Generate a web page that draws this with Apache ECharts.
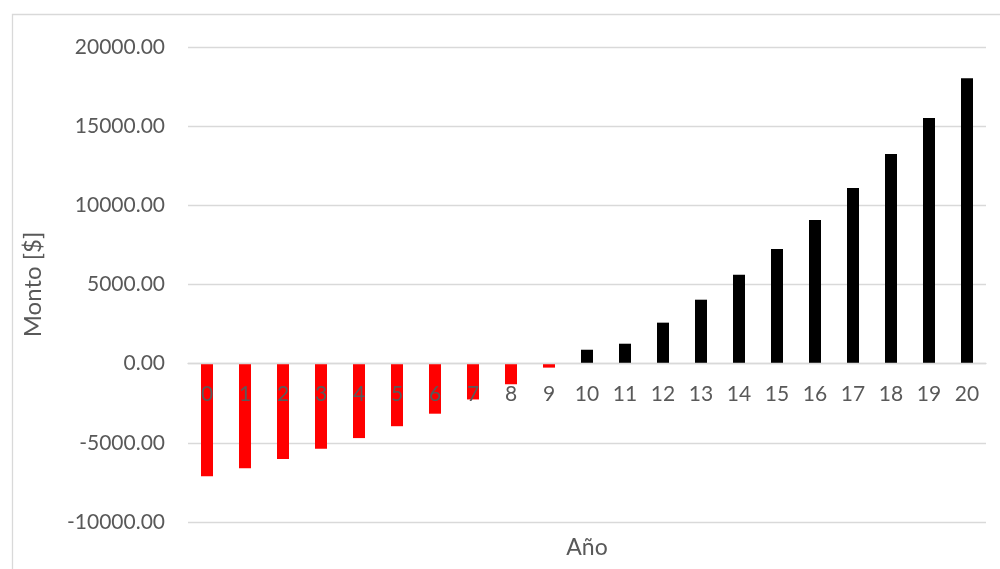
<!DOCTYPE html>
<html>
<head>
<meta charset="utf-8">
<script src="https://cdn.jsdelivr.net/npm/echarts@6/dist/echarts.min.js"></script>
<style>html,body{margin:0;padding:0;background:#fff}#c{width:1000px;height:569px}</style>
</head>
<body>
<div id="c"></div>
<script>
const years = ['0','1','2','3','4','5','6','7','8','9','10','11','12','13','14','15','16','17','18','19','20'];
const amounts = [-7110,-6600,-6020,-5380,-4700,-3950,-3160,-2260,-1300,-250,880,1260,2590,4040,5610,7250,9080,11100,13240,15510,18030];
const yTicks = { min: -10000, max: 20000, interval: 5000 };
const xTitle = 'Año';
const yTitle = 'Monto [$]';

const gridTop = 47, gridBottom = 47, chartH = 569;
const plotH = chartH - gridTop - gridBottom;
// distance from bottom of plot to the zero line, derived from the axis range
const zeroOffset = plotH * (0 - yTicks.min) / (yTicks.max - yTicks.min);

const chart = echarts.init(document.getElementById('c'), null, { renderer: 'canvas' });
const font = 'Lato, "Open Sans", sans-serif';
chart.setOption({
  animation: false,
  backgroundColor: '#fff',
  graphic: [{
    type: 'rect', left: 10, top: 12, z: -1,
    shape: { width: 1100, height: 700 },
    style: { fill: 'none', stroke: '#d9d9d9', lineWidth: 1.3 }
  }],
  grid: { left: 188, right: 14, top: gridTop, bottom: gridBottom, containLabel: false, outerBoundsMode: 'none' },
  xAxis: {
    type: 'category',
    data: years,
    z: 5,
    position: 'bottom',
    offset: -zeroOffset,
    axisLine: { onZero: false, lineStyle: { color: '#d9d9d9', width: 1.3 } },
    axisTick: { show: false },
    axisLabel: { color: '#595959', fontSize: 21, fontFamily: font, margin: 20 },
    name: xTitle,
    nameLocation: 'middle',
    nameGap: 172,
    nameTextStyle: { color: '#595959', fontSize: 23, fontFamily: font }
  },
  yAxis: {
    type: 'value',
    min: yTicks.min, max: yTicks.max, interval: yTicks.interval,
    axisLine: { show: false },
    axisTick: { show: false },
    splitLine: { lineStyle: { color: '#d9d9d9', width: 1.3 } },
    axisLabel: { color: '#595959', fontSize: 21, fontFamily: font, margin: 23,
      formatter: v => v.toFixed(2) },
    name: yTitle,
    nameLocation: 'middle',
    nameGap: 143,
    nameRotate: 90,
    nameTextStyle: { color: '#595959', fontSize: 24, fontFamily: font }
  },
  series: [{
    type: 'bar',
    data: amounts,
    barWidth: 12,
    itemStyle: { color: p => p.value < 0 ? '#ff0000' : '#000000' }
  }]
});
</script>
</body>
</html>
